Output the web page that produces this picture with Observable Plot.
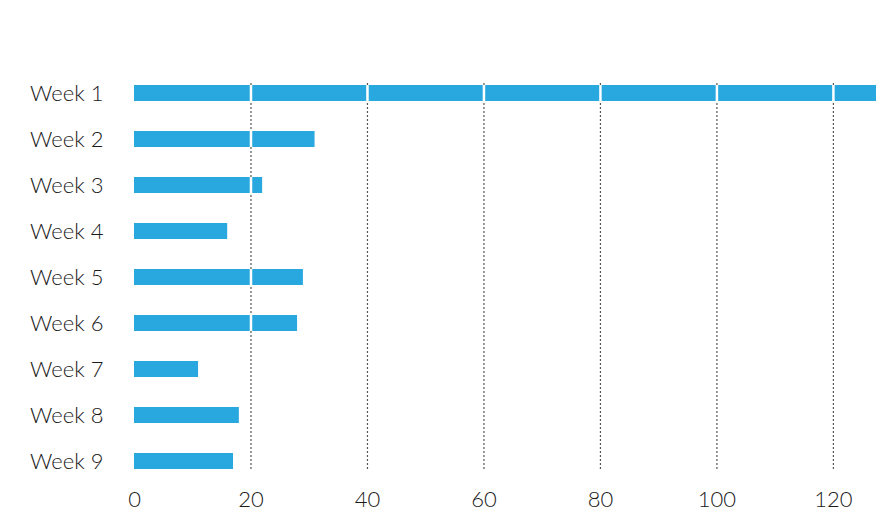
<!DOCTYPE html>
<html>
<head>
<meta charset="utf-8">
<script src="https://cdn.jsdelivr.net/npm/d3@7"></script>
<script src="https://cdn.jsdelivr.net/npm/@observablehq/plot@0.6"></script>
<style>
  html, body { margin: 0; padding: 0; background: #fff; }
  #chart svg { display: block; overflow: hidden; }
</style>
</head>
<body>
<div id="chart"></div>
<script>
const weeks = ["Week 1", "Week 2", "Week 3", "Week 4", "Week 5", "Week 6", "Week 7", "Week 8", "Week 9"];
const values = [130, 31, 22, 16, 29, 28, 11, 18, 17];
const xTicks = [0, 20, 40, 60, 80, 100, 120];
const gridTicks = [20, 40, 60, 80, 100, 120];

const data = weeks.map((w, i) => ({week: w, value: values[i]}));
const crossings = [];
for (const d of data) for (const t of gridTicks) if (t < d.value) crossings.push({week: d.week, x: t});

const chart = Plot.plot({
  width: 876,
  height: 512,
  marginLeft: 134,
  marginRight: 0,
  marginTop: 83,
  marginBottom: 41,
  style: {fontFamily: "Lato, 'Open Sans', sans-serif", fontSize: "22px", color: "#1a1a1a", background: "#fff"},
  x: {domain: [0, 127.4], ticks: xTicks, label: null},
  y: {domain: weeks, paddingInner: 0.65, paddingOuter: 0, label: null},
  marks: [
    Plot.gridX(gridTicks, {stroke: "#555", strokeOpacity: 1, strokeWidth: 1.2, strokeDasharray: "2,2"}),
    Plot.barX(data, {x: "value", y: "week", fill: "#29a8e0", clip: true}),
    Plot.tickX(crossings, {x: "x", y: "week", stroke: "#fff", strokeWidth: 2.5}),
    Plot.axisX({ticks: xTicks, tickSize: 0, tickPadding: 20, fontSize: 22, fontWeight: 300, label: null}),
    Plot.axisY({tickSize: 0, tickPadding: 31, fontSize: 22, fontWeight: 300, label: null})
  ]
});
document.getElementById("chart").appendChild(chart);
</script>
</body>
</html>
